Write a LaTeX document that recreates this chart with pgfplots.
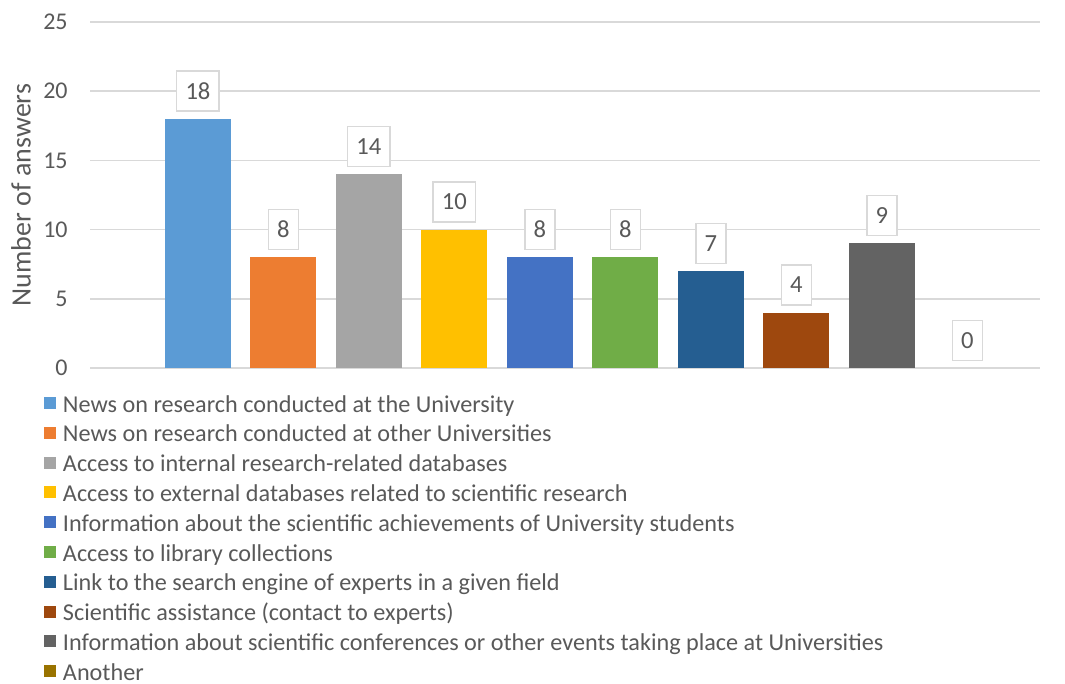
\documentclass[border=0pt]{standalone}
\usepackage{pgfplots}
\pgfplotsset{compat=1.18}
\usepackage{fontspec}
\setmainfont{Carlito}
\definecolor{c1}{HTML}{5B9BD5}
\definecolor{c2}{HTML}{ED7D31}
\definecolor{c3}{HTML}{A5A5A5}
\definecolor{c4}{HTML}{FFC000}
\definecolor{c5}{HTML}{4472C4}
\definecolor{c6}{HTML}{70AD47}
\definecolor{c7}{HTML}{255E91}
\definecolor{c8}{HTML}{9E480E}
\definecolor{c9}{HTML}{636363}
\definecolor{c10}{HTML}{997300}
\definecolor{txt}{HTML}{595959}
\definecolor{gridc}{HTML}{D9D9D9}
\begin{document}
\begin{tikzpicture}
\useasboundingbox (-45pt,-158pt) rectangle (487.5pt,184pt);
\begin{axis}[
  at={(0pt,0pt)}, anchor=south west,
  scale only axis, width=475pt, height=173pt,
  xmin=-1.263, xmax=9.85, ymin=0, ymax=25,
  ytick={0,5,...,25}, xtick=\empty,
  axis line style={draw=none},
  ymajorgrids, grid style={gridc, line width=0.75pt},
  major tick length=0pt,
  ybar, bar width=33pt, bar shift=0pt,
  tick label style={font=\fontsize{12}{14}\selectfont, text=txt},
  /pgf/number format/assume math mode=true,
  yticklabel style={inner sep=0pt, xshift=-11pt},
  ylabel={Number of answers},
  ylabel style={at={(axis description cs:-0.0726,0.5)}, anchor=center, font=\fontsize{14}{16}\selectfont, text=txt},
  nodes near coords,
  every node near coord/.append style={anchor=south, yshift=3.5pt, draw=gridc, line width=0.75pt, fill=white, text=txt, inner xsep=4.4pt, minimum height=20pt, font=\fontsize{12.3}{14}\selectfont},
  legend cell align=left,
  legend style={at={(axis description cs:0,0)}, anchor=north west, xshift=-23pt, yshift=-10pt,
    draw=none, fill=none, inner sep=0pt, outer sep=0pt, row sep=0pt, column sep=3.5pt,
    font=\fontsize{12.1}{14}\selectfont, text=txt,
    nodes={inner sep=0pt, text height=12pt, text depth=2.9pt}},
  legend image code/.code={\fill[#1] (0pt,-3pt) rectangle (6pt,3pt);},
]
\addplot[fill=c1, draw=none] coordinates {(0,18)};
\addplot[fill=c2, draw=none] coordinates {(1,8)};
\addplot[fill=c3, draw=none] coordinates {(2,14)};
\addplot[fill=c4, draw=none] coordinates {(3,10)};
\addplot[fill=c5, draw=none] coordinates {(4,8)};
\addplot[fill=c6, draw=none] coordinates {(5,8)};
\addplot[fill=c7, draw=none] coordinates {(6,7)};
\addplot[fill=c8, draw=none] coordinates {(7,4)};
\addplot[fill=c9, draw=none] coordinates {(8,9)};
\addplot[fill=c10, draw=none, fill opacity=0, text opacity=1,
  legend image code/.code={\fill[c10, fill opacity=1, opacity=1] (0pt,-3pt) rectangle (6pt,3pt);}] coordinates {(9,0)};
\legend{News on research conducted at the University,
News on research conducted at other Universities,
Access to internal research-related databases,
Access to external databases related to scientific research,
Information about the scientific achievements of University students,
Access to library collections,
Link to the search engine of experts in a given field,
Scientific assistance (contact to experts),
Information about scientific conferences or other events taking place at Universities,
Another}
\end{axis}
\end{tikzpicture}
\end{document}
